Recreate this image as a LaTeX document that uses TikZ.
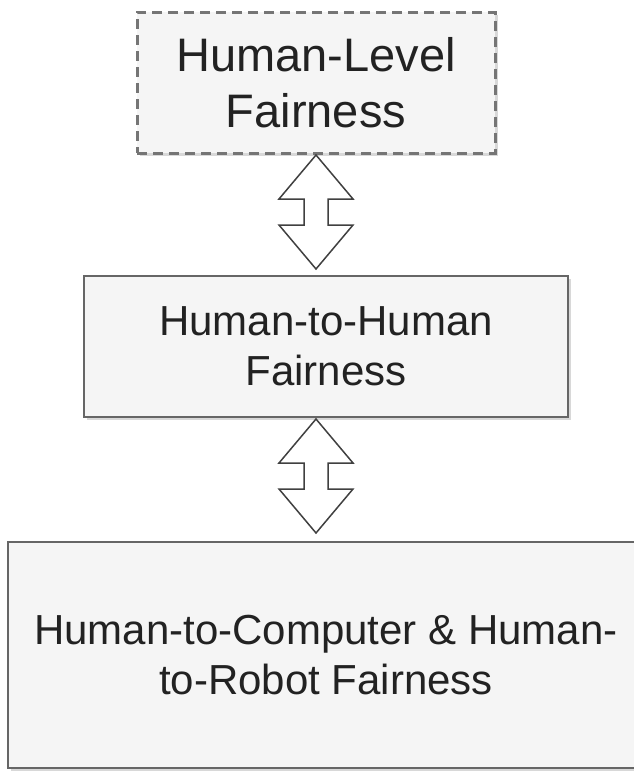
\documentclass[tikz,border=0pt]{standalone}
\usepackage{fontspec}
\setmainfont{Liberation Sans}
\usetikzlibrary{positioning,shadows,calc}
\definecolor{boxfill}{HTML}{F5F5F5}
\definecolor{boxline}{HTML}{666666}
\definecolor{txt}{HTML}{222222}
\tikzset{
  levelbox/.style={
    rectangle, draw=boxline, fill=boxfill, line width=2pt,
    text=txt, align=center, inner sep=0pt, outer sep=0pt,
    font=\fontsize{42}{50}\selectfont,
    drop shadow={shadow xshift=3pt, shadow yshift=-3pt, fill=black!30}
  },
  topbox/.style={
    levelbox, line width=3pt, dash pattern=on 10pt off 6pt, draw=boxline!90,
    font=\fontsize{47}{56}\selectfont
  },
  dblarrow/.style={
    draw=black!75, fill=white, line width=1.5pt, line join=miter
  },
}

\begin{document}
\begin{tikzpicture}[x=1pt, y=1pt]
  \useasboundingbox (0,0) rectangle (634,-772);

  % the three levels
  \node[topbox, minimum width=358pt, minimum height=141pt] (hlevel) at (316,-82.5) {Human-Level\\Fairness};
  \node[levelbox, minimum width=484pt, minimum height=141pt, below=123pt of hlevel, xshift=10pt] (hh) {Human-to-Human\\Fairness};
  \node[levelbox, minimum width=636pt, minimum height=226pt, below=125pt of hh] (hcr) {Human-to-Computer \& Human-\\to-Robot Fairness};

  % double arrows between the levels
  \foreach \a in {hlevel,hh} {
    \draw[dblarrow] ($(\a.south -| hlevel.south)+(0,-2)$) -- ++(37,-44) -- ++(-25,0) -- ++(0,-26) -- ++(25,0)
      -- ++(-37,-44) -- ++(-37,44) -- ++(25,0) -- ++(0,26) -- ++(-25,0) -- cycle;
  }
\end{tikzpicture}
\end{document}
